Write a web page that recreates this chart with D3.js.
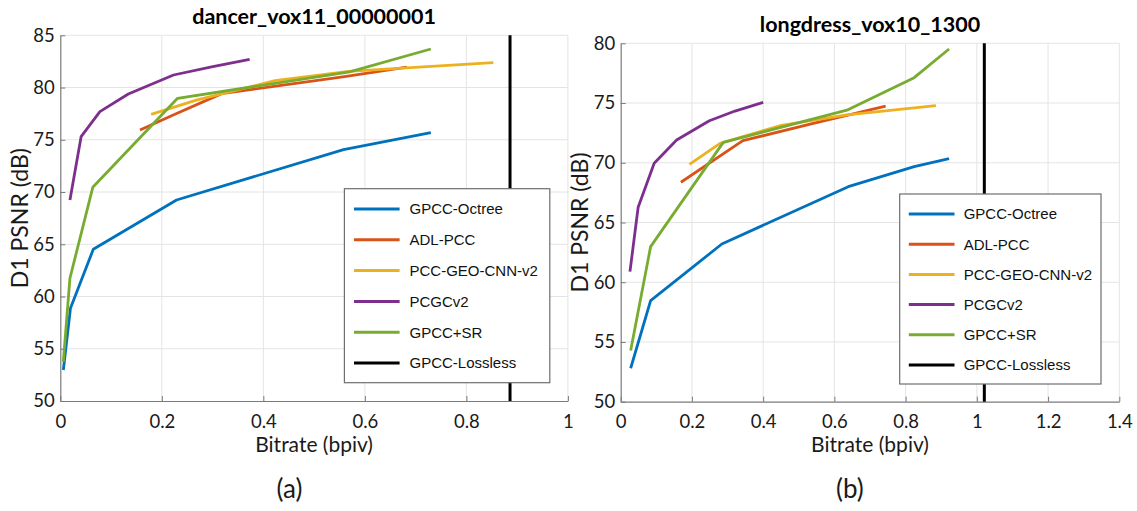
<!DOCTYPE html>
<html>
<head>
<meta charset="utf-8">
<script src="https://cdn.jsdelivr.net/npm/d3@7/dist/d3.min.js"></script>
<style>
  html, body { margin: 0; padding: 0; background: #fff; }
  svg { display: block; }
</style>
</head>
<body>
<svg id="chart" width="1137" height="511"></svg>
<script>
// Series names and colours shared by both panels
const methods = ["GPCC-Octree", "ADL-PCC", "PCC-GEO-CNN-v2", "PCGCv2", "GPCC+SR", "GPCC-Lossless"];
const methodColors = ["#0072BD", "#D95319", "#EDB120", "#7E2F8E", "#77AC30", "#000000"];

// (a) dancer_vox11_00000001 : bitrate (bpiv) and D1 PSNR (dB)
const dancerOctreeRate = [0.006, 0.020, 0.065, 0.229, 0.558, 0.730];
const dancerOctreePsnr = [52.97, 58.87, 64.52, 69.24, 74.05, 75.68];
const dancerAdlRate = [0.157, 0.228, 0.318, 0.560, 0.683];
const dancerAdlPsnr = [75.94, 77.50, 79.42, 81.05, 81.95];
const dancerGeoRate = [0.179, 0.268, 0.423, 0.568, 0.853];
const dancerGeoPsnr = [77.44, 78.80, 80.66, 81.55, 82.38];
const dancerPcgcRate = [0.019, 0.041, 0.078, 0.134, 0.223, 0.298, 0.373];
const dancerPcgcPsnr = [69.24, 75.30, 77.69, 79.38, 81.20, 81.98, 82.70];
const dancerSrRate = [0.006, 0.019, 0.064, 0.231, 0.570, 0.730];
const dancerSrPsnr = [53.77, 61.75, 70.45, 78.97, 81.50, 83.69];
const dancerLosslessRate = 0.886;

// (b) longdress_vox10_1300
const longOctreeRate = [0.028, 0.084, 0.284, 0.639, 0.824, 0.922];
const longOctreePsnr = [52.80, 58.46, 63.20, 68.00, 69.67, 70.35];
const longAdlRate = [0.169, 0.343, 0.535, 0.744];
const longAdlPsnr = [68.37, 71.85, 73.25, 74.75];
const longGeoRate = [0.193, 0.279, 0.447, 0.635, 0.885];
const longGeoPsnr = [69.87, 71.63, 73.10, 74.00, 74.78];
const longPcgcRate = [0.026, 0.049, 0.094, 0.157, 0.249, 0.321, 0.400];
const longPcgcPsnr = [60.89, 66.28, 69.96, 71.90, 73.52, 74.33, 75.06];
const longSrRate = [0.028, 0.084, 0.288, 0.635, 0.824, 0.922];
const longSrPsnr = [54.28, 62.98, 71.71, 74.40, 77.12, 79.52];
const longLosslessRate = 1.021;

// Axis ticks
const dancerXTicks = [0, 0.2, 0.4, 0.6, 0.8, 1];
const dancerYTicks = [50, 55, 60, 65, 70, 75, 80, 85];
const longXTicks = [0, 0.2, 0.4, 0.6, 0.8, 1, 1.2, 1.4];
const longYTicks = [50, 55, 60, 65, 70, 75, 80];

const zip = (xs, ys) => xs.map((x, i) => [x, ys[i]]);

const panels = [
  {
    title: "dancer_vox11_00000001", caption: "(a)",
    left: 60.3, right: 567.9, top: 35.3, bottom: 401,
    xTicks: dancerXTicks, yTicks: dancerYTicks,
    series: [
      zip(dancerOctreeRate, dancerOctreePsnr),
      zip(dancerAdlRate, dancerAdlPsnr),
      zip(dancerGeoRate, dancerGeoPsnr),
      zip(dancerPcgcRate, dancerPcgcPsnr),
      zip(dancerSrRate, dancerSrPsnr)
    ],
    lossless: dancerLosslessRate,
    ylabelX: 27.7, captionX: 289.5,
    legend: { x0: 344.4, x1: 549.8, y0: 188.7, y1: 382.7, lx0: 354, lx1: 399.6, tx: 409.5, ys: 209, dy: 30.8 }
  },
  {
    title: "longdress_vox10_1300", caption: "(b)",
    left: 620.7, right: 1119.3, top: 43.3, bottom: 401.7,
    xTicks: longXTicks, yTicks: longYTicks,
    series: [
      zip(longOctreeRate, longOctreePsnr),
      zip(longAdlRate, longAdlPsnr),
      zip(longGeoRate, longGeoPsnr),
      zip(longPcgcRate, longPcgcPsnr),
      zip(longSrRate, longSrPsnr)
    ],
    lossless: longLosslessRate,
    ylabelX: 587.6, captionX: 849.8,
    legend: { x0: 899.7, x1: 1101, y0: 194, y1: 384, lx0: 908.8, lx1: 954.5, tx: 963.7, ys: 214, dy: 30.2 }
  }
];

const svg = d3.select("#chart");
const tickFont = "Lato, 'Open Sans', sans-serif";

panels.forEach(p => {
  const xDom = [p.xTicks[0], p.xTicks[p.xTicks.length - 1]];
  const yDom = [p.yTicks[0], p.yTicks[p.yTicks.length - 1]];
  const x = d3.scaleLinear().domain(xDom).range([p.left, p.right]);
  const y = d3.scaleLinear().domain(yDom).range([p.bottom, p.top]);
  const g = svg.append("g");

  // grid
  g.append("g").selectAll("line.gx").data(p.xTicks.slice(1)).join("line")
    .attr("x1", d => x(d)).attr("x2", d => x(d))
    .attr("y1", p.top).attr("y2", p.bottom)
    .attr("stroke", "#e4e4e4").attr("stroke-width", 1);
  g.append("g").selectAll("line.gy").data(p.yTicks.slice(1)).join("line")
    .attr("x1", p.left).attr("x2", p.right)
    .attr("y1", d => y(d)).attr("y2", d => y(d))
    .attr("stroke", "#e4e4e4").attr("stroke-width", 1);

  // axes with inward ticks
  const xAxis = d3.axisBottom(x).tickValues(p.xTicks).tickFormat(d3.format("~g"))
    .tickSizeInner(-5).tickSizeOuter(0).tickPadding(13.5);
  const yAxis = d3.axisLeft(y).tickValues(p.yTicks).tickFormat(d3.format("d"))
    .tickSizeInner(-5).tickSizeOuter(0).tickPadding(5.5);

  const gx = g.append("g").attr("transform", `translate(0,${p.bottom})`).call(xAxis);
  const gy = g.append("g").attr("transform", `translate(${p.left},0)`).call(yAxis);
  [gx, gy].forEach(ax => {
    ax.select(".domain").attr("stroke", "#7a7a7a").attr("stroke-width", 1.2);
    ax.selectAll(".tick line").attr("stroke", "#7a7a7a");
    ax.selectAll(".tick text").attr("fill", "#1a1a1a")
      .style("font-family", tickFont).style("font-size", "18.5px");
  });

  // curves
  const line = d3.line().x(d => x(d[0])).y(d => y(d[1]));
  p.series.forEach((s, i) => {
    g.append("path").datum(s)
      .attr("d", line)
      .attr("fill", "none")
      .attr("stroke", methodColors[i])
      .attr("stroke-width", 2.8)
      .attr("stroke-linejoin", "round");
  });

  // lossless reference (vertical line)
  g.append("path").datum([[p.lossless, yDom[0]], [p.lossless, yDom[1]]])
    .attr("d", line).attr("fill", "none")
    .attr("stroke", methodColors[5]).attr("stroke-width", 3);

  // title
  g.append("text")
    .attr("x", (p.left + p.right) / 2).attr("y", p.top - 11)
    .attr("text-anchor", "middle")
    .style("font-family", tickFont).style("font-weight", "bold").style("font-size", "21.5px")
    .attr("fill", "#000").text(p.title);

  // axis labels
  g.append("text")
    .attr("x", (p.left + p.right) / 2).attr("y", 451.5)
    .attr("text-anchor", "middle")
    .style("font-family", tickFont).style("font-size", "21px")
    .attr("fill", "#1a1a1a").text("Bitrate (bpiv)");
  g.append("text")
    .attr("transform", `translate(${p.ylabelX},${(p.top + p.bottom) / 2}) rotate(-90)`)
    .attr("text-anchor", "middle")
    .style("font-family", tickFont).style("font-size", "23px")
    .attr("fill", "#1a1a1a").text("D1 PSNR (dB)");

  // caption
  g.append("text")
    .attr("x", p.captionX).attr("y", 498)
    .attr("text-anchor", "middle")
    .style("font-family", tickFont).style("font-size", "26px")
    .attr("fill", "#1a1a1a").text(p.caption);

  // legend
  const L = p.legend;
  g.append("rect")
    .attr("x", L.x0).attr("y", L.y0)
    .attr("width", L.x1 - L.x0).attr("height", L.y1 - L.y0)
    .attr("fill", "#fff").attr("stroke", "#6e6e6e").attr("stroke-width", 1.2);
  const items = g.append("g").selectAll("g").data(methods).join("g")
    .attr("transform", (d, i) => `translate(0,${L.ys + i * L.dy})`);
  items.append("line")
    .attr("x1", L.lx0).attr("x2", L.lx1).attr("y1", 0).attr("y2", 0)
    .attr("stroke", (d, i) => methodColors[i]).attr("stroke-width", 3);
  items.append("text")
    .attr("x", L.tx).attr("y", 0).attr("dy", "0.36em")
    .style("font-family", "'Liberation Sans', Arial, sans-serif").style("font-size", "15px")
    .attr("fill", "#111").text(d => d);
});
</script>
</body>
</html>
